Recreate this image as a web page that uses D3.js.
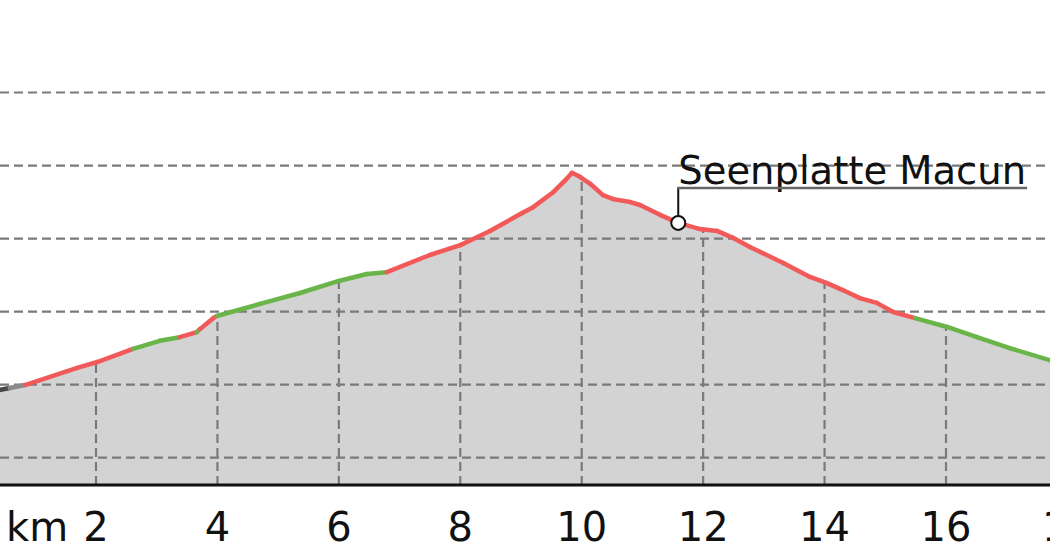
<!DOCTYPE html>
<html>
<head>
<meta charset="utf-8">
<script src="https://cdn.jsdelivr.net/npm/d3@7"></script>
<style>
  html, body { margin: 0; padding: 0; background: #fff; }
  svg { display: block; font-family: "DejaVu Sans", sans-serif; }
</style>
</head>
<body>
<svg id="chart" width="1050" height="560"></svg>
<script>
// ---- data ----
const distanceKm = [0.34, 0.58, 0.83, 1.69, 2.02, 2.61, 3.05, 3.38, 3.66, 3.71,
  3.93, 3.99, 4.70, 5.36, 6.00, 6.46, 6.79, 7.50, 8.00, 8.49,
  9.02, 9.20, 9.53, 9.73, 9.84, 9.97, 10.14, 10.35, 10.52, 10.80,
  10.96, 11.29, 11.59, 11.95, 12.23, 12.49, 12.77, 13.32, 13.76, 14.04,
  14.30, 14.58, 14.86, 15.13, 15.49, 16.02, 16.51, 17.05, 17.71, 17.88];
const elevationM = [1583, 1591, 1599, 1646, 1662, 1698, 1720, 1730, 1744, 1752,
  1782, 1788, 1821, 1851, 1884, 1903, 1908, 1955, 1982, 2021,
  2070, 2086, 2127, 2160, 2180, 2169, 2150, 2119, 2108, 2100,
  2092, 2065, 2043, 2026, 2021, 2002, 1977, 1933, 1895, 1878,
  1859, 1837, 1824, 1799, 1782, 1758, 1730, 1700, 1667, 1659];
// surface class of each segment (from point i to point i+1)
const segmentClass = ["dark", "gray", "red", "red", "red", "green", "green", "red", "green", "red",
  "red", "green", "green", "green", "green", "green", "red", "red", "red", "red",
  "red", "red", "red", "red", "red", "red", "red", "red", "red", "red",
  "red", "red", "red", "red", "red", "red", "red", "red", "red", "red",
  "red", "red", "red", "red", "green", "green", "green", "green", "green"];
const xTicks = [2, 4, 6, 8, 10, 12, 14, 16, 18];
const yGrid = [1400, 1600, 1800, 2000, 2200, 2400];
const xUnit = "km";
const waypointName = "Seenplatte Macun";
const waypointIndex = 32;

// ---- scales ----
const svg = d3.select("#chart");
const x = d3.scaleLinear().domain([2, 16]).range([96, 946]);
const y = d3.scaleLinear().domain([1400, 2400]).range([457.7, 92.5]);
const axisY = 485;
const baseElev = y.invert(axisY);

const pts = distanceKm.map((d, i) => ({ d, e: elevationM[i] }));
const colors = { dark: "#4a4a4a", gray: "#8a8a8a", red: "#f25a5a", green: "#69b54a" };

// area fill
const area = d3.area().x(p => x(p.d)).y0(y(baseElev)).y1(p => y(p.e));
svg.append("defs").append("clipPath").attr("id", "areaClip")
  .append("path").attr("d", area(pts));
svg.append("path").attr("d", area(pts)).attr("fill", "#d3d3d3");

// vertical grid lines, only inside the profile
svg.append("g").attr("clip-path", "url(#areaClip)")
  .selectAll("line").data(xTicks).join("line")
  .attr("x1", d => x(d)).attr("x2", d => x(d))
  .attr("y1", axisY).attr("y2", 60)
  .attr("stroke", "#7a7a7a").attr("stroke-width", 2.2).attr("stroke-dasharray", "9,5");

// horizontal grid lines
svg.append("g").selectAll("line").data(yGrid).join("line")
  .attr("x1", 0).attr("x2", 1050)
  .attr("y1", d => y(d)).attr("y2", d => y(d))
  .attr("stroke", "#7a7a7a").attr("stroke-width", 2.2).attr("stroke-dasharray", "9,5");

// profile line segments
const line = d3.line().x(p => x(p.d)).y(p => y(p.e));
svg.append("g").selectAll("path").data(segmentClass).join("path")
  .attr("d", (c, i) => line([pts[i], pts[i + 1]]))
  .attr("fill", "none")
  .attr("stroke", c => colors[c])
  .attr("stroke-width", 4.5)
  .attr("stroke-linecap", "round")
  .attr("stroke-linejoin", "round");

// x axis line
svg.append("line").attr("x1", 0).attr("x2", 1050)
  .attr("y1", axisY).attr("y2", axisY)
  .attr("stroke", "#111").attr("stroke-width", 3);

// x tick labels
svg.append("g").selectAll("text").data(xTicks).join("text")
  .attr("x", d => x(d)).attr("y", 541)
  .attr("text-anchor", "middle")
  .attr("font-size", 40).attr("fill", "#111")
  .text(d => d);
svg.append("text").attr("x", 6).attr("y", 541)
  .attr("font-size", 40).attr("fill", "#111").text(xUnit);

// waypoint
const wp = pts[waypointIndex];
const wx = x(wp.d), wy = y(wp.e);
const labelY = 188;
svg.append("line").attr("x1", wx).attr("x2", wx).attr("y1", labelY).attr("y2", wy)
  .attr("stroke", "#111").attr("stroke-width", 2);
const lbl = svg.append("text").attr("x", wx).attr("y", 184)
  .attr("font-size", 38.5).attr("fill", "#111").text(waypointName);
const w = lbl.node().getComputedTextLength();
svg.append("line").attr("x1", wx - 1).attr("x2", wx + w + 1)
  .attr("y1", labelY).attr("y2", labelY)
  .attr("stroke", "#666").attr("stroke-width", 2.5);
svg.append("circle").attr("cx", wx).attr("cy", wy).attr("r", 7)
  .attr("fill", "#fff").attr("stroke", "#111").attr("stroke-width", 2);
</script>
</body>
</html>
